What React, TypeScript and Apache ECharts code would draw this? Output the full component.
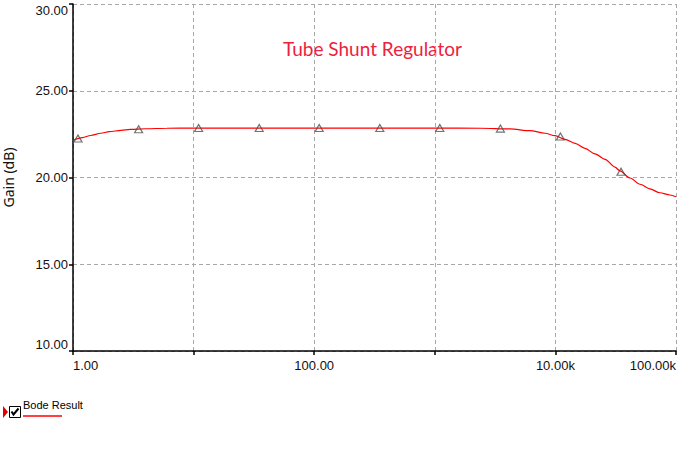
import React, { useEffect, useRef } from "react";
import * as echarts from "echarts";

const freqs = [1, 1.2, 1.4, 1.7, 2, 2.5, 3, 4, 6, 10, 30, 100, 300, 1000, 2400, 4200, 6150, 8200, 9930, 12000, 14550, 17600, 21300, 25800, 31200, 34300, 41600, 50300, 60800, 73600, 89100, 100000];
const gains = [22.15, 22.3, 22.42, 22.55, 22.64, 22.72, 22.77, 22.81, 22.84, 22.85, 22.85, 22.85, 22.85, 22.85, 22.84, 22.8, 22.7, 22.55, 22.41, 22.2, 21.97, 21.68, 21.36, 21.05, 20.6, 20.38, 19.97, 19.61, 19.34, 19.12, 18.99, 18.89];

const markerFreqs = [1.1, 3.5, 11, 35, 110, 350, 1100, 3500, 11000, 35000];
const markerGains = [22.25, 22.78, 22.85, 22.85, 22.85, 22.85, 22.85, 22.82, 22.36, 20.33];

const yTicks = { min: 10, max: 30, interval: 5 };
const xRange = { min: 1, max: 100000 };
const xLabelledDecades = [0, 2, 4, 5];
const titleText = "Tube Shunt Regulator";
const yName = "Gain (dB)";
const legendName = "Bode Result";

function fmtX(v: number): string {
  const e = Math.round(Math.log10(v));
  if (xLabelledDecades.indexOf(e) < 0) return "";
  if (v >= 1000) return (v / 1000).toFixed(2) + "k";
  return v.toFixed(2);
}

export default function App() {
  const ref = useRef<HTMLDivElement>(null);
  useEffect(() => {
    if (!ref.current) return;
    const chart = echarts.init(ref.current, null, { renderer: "svg" });
    const grid = "#a8a8a8";
    chart.setOption({
      animation: false,
      backgroundColor: "#ffffff",
      grid: { left: 73, right: 20, top: 4, bottom: 98, containLabel: false, outerBoundsMode: "none" },
      xAxis: {
        type: "log",
        logBase: 10,
        min: xRange.min,
        max: xRange.max,
        axisLine: { show: true, onZero: false, lineStyle: { color: "#000", width: 1.5 } },
        axisTick: { show: true, inside: false, length: 4, lineStyle: { color: "#000", width: 1.5 } },
        splitLine: { show: true, lineStyle: { color: grid, type: [4, 3], width: 1 } },
        minorTick: { show: false },
        axisLabel: {
          formatter: fmtX,
          color: "#111",
          fontSize: 13,
          fontFamily: "Liberation Sans",
          margin: 8,
          showMinLabel: true,
          showMaxLabel: true,
          alignMinLabel: "left",
          alignMaxLabel: "right",
        },
      },
      yAxis: {
        type: "value",
        min: yTicks.min,
        max: yTicks.max,
        interval: yTicks.interval,
        name: yName,
        nameLocation: "middle",
        nameRotate: 90,
        nameGap: 58,
        nameTextStyle: { color: "#111", fontSize: 14, fontFamily: "Noto Sans" },
        axisLine: { show: true, lineStyle: { color: "#000", width: 1.5 } },
        axisTick: { show: true, inside: false, length: 4, lineStyle: { color: "#000", width: 1.5 } },
        splitLine: { show: true, lineStyle: { color: grid, type: [4, 3], width: 1 } },
        axisLabel: {
          formatter: (v: number) => v.toFixed(2),
          color: "#111",
          fontSize: 13,
          fontFamily: "Liberation Sans",
          margin: 5,
          verticalAlignMinLabel: "bottom",
          verticalAlignMaxLabel: "top",
        },
      },
      series: [
        {
          type: "line",
          data: freqs.map((f, i) => [f, gains[i]]),
          smooth: 0.3,
          smoothMonotone: "x",
          showSymbol: false,
          lineStyle: { color: "#ff0000", width: 1.2 },
          z: 2,
        },
        {
          type: "scatter",
          data: markerFreqs.map((f, i) => [f, markerGains[i]]),
          symbol: "triangle",
          symbolSize: [8, 7],
          itemStyle: { color: "rgba(255,255,255,0)", borderColor: "#505050", borderWidth: 1.2 },
          z: 3,
        },
      ],
      graphic: [
        {
          type: "text",
          left: 283,
          top: 39,
          style: { text: titleText, fill: "#f0203c", fontSize: 19, fontFamily: "Lato" },
        },
        { type: "polygon", shape: { points: [[3, 406], [8, 412], [3, 418]] }, style: { fill: "#e00000" } },
        { type: "rect", shape: { x: 9.5, y: 406.5, width: 11, height: 11 }, style: { fill: "#fff", stroke: "#000", lineWidth: 1 } },
        { type: "polyline", shape: { points: [[11.5, 411.5], [13.5, 414.5], [18.5, 408.5]] }, style: { stroke: "#000", lineWidth: 2, fill: null } },
        {
          type: "text",
          left: 23,
          top: 399,
          style: { text: legendName, fill: "#000", fontSize: 11, fontFamily: "Liberation Sans" },
        },
        { type: "line", shape: { x1: 23, y1: 416, x2: 62, y2: 416 }, style: { stroke: "#ff0000", lineWidth: 1.5 } },
      ],
    });
    return () => chart.dispose();
  }, []);
  return <div ref={ref} style={{ position: "fixed", left: 0, top: 0, width: 696, height: 449 }} />;
}
